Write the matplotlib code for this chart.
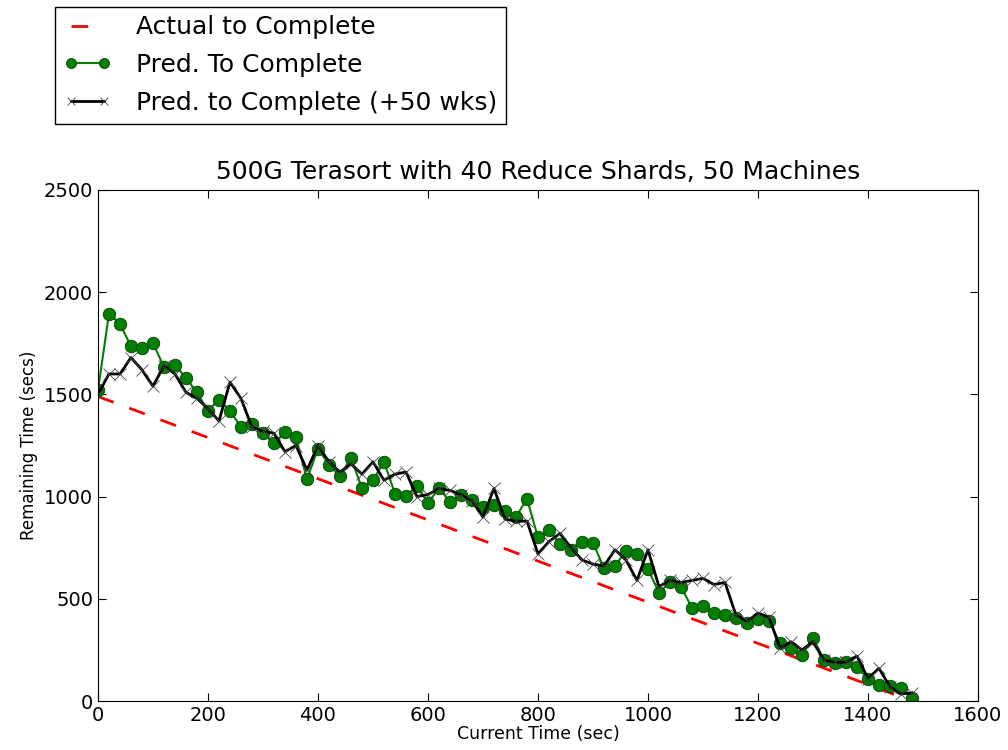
import matplotlib
matplotlib.use("Agg")
import matplotlib.pyplot as plt

# current time (sec), one sample every 20 s
times = list(range(0, 1500, 20))

# remaining-time predictions
pred = [1520, 1895, 1845, 1735, 1725, 1750, 1635, 1645, 1580, 1510,
        1420, 1475, 1420, 1340, 1355, 1310, 1260, 1315, 1290, 1085,
        1235, 1155, 1100, 1190, 1040, 1080, 1170, 1015, 1005, 1050,
        970, 1040, 975, 1010, 985, 950, 960, 930, 900, 990,
        800, 835, 770, 740, 780, 775, 650, 660, 735, 720,
        645, 530, 580, 560, 455, 465, 430, 420, 405, 380,
        400, 390, 285, 260, 225, 310, 200, 185, 190, 165,
        110, 80, 75, 65, 15]
pred_50 = [1500, 1600, 1600, 1680, 1620, 1540, 1640, 1600, 1510, 1480,
           1430, 1370, 1560, 1480, 1340, 1320, 1310, 1220, 1250, 1130,
           1250, 1170, 1120, 1160, 1110, 1170, 1080, 1110, 1120, 1000,
           1010, 1040, 1030, 1010, 980, 900, 1040, 890, 880, 880,
           720, 780, 820, 750, 690, 670, 660, 740, 690, 590,
           740, 560, 590, 580, 590, 600, 570, 580, 420, 390,
           430, 410, 260, 290, 250, 290, 200, 190, 190, 220,
           110, 160, 70, 35, 40]
actual_t = [0, 1480]
actual = [1490, 0]

fig = plt.figure(figsize=(10.08, 7.5), dpi=100)
ax = fig.add_axes([0.0972, 0.0653, 0.8730, 0.6814])

ax.plot(actual_t, actual, "--", color="red", lw=2, dashes=(6, 6),
        label="Actual to Complete")
ax.plot(times, pred, "-o", color="#007f00", lw=1.5, ms=9,
        mec="#004000", mew=0.6, label="Pred. To Complete")
ax.plot(times, pred_50, "-x", color="black", lw=2, ms=8,
        mew=0.6, mec="#444444", label="Pred. to Complete (+50 wks)")

ax.set_xlim(0, 1600)
ax.set_ylim(0, 2500)
ax.set_xticks(range(0, 1601, 200))
ax.set_yticks(range(0, 2501, 500))
ax.tick_params(direction="in", top=True, right=True, labelsize=14, length=6)
ax.set_xlabel("Current Time (sec)", fontsize=12.5, labelpad=0)
ax.set_ylabel("Remaining Time (secs)", fontsize=12)
ax.set_title("500G Terasort with 40 Reduce Shards, 50 Machines", fontsize=18,
             pad=8)

fig.legend(loc="upper left", bbox_to_anchor=(0.042, 1.008), fontsize=18,
           fancybox=False, edgecolor="black", framealpha=1, numpoints=2,
           markerscale=0.8, handlelength=1.9, borderpad=0.35,
           labelspacing=0.55, handletextpad=1.0)

fig.savefig("out.png", dpi=100, facecolor="white")
